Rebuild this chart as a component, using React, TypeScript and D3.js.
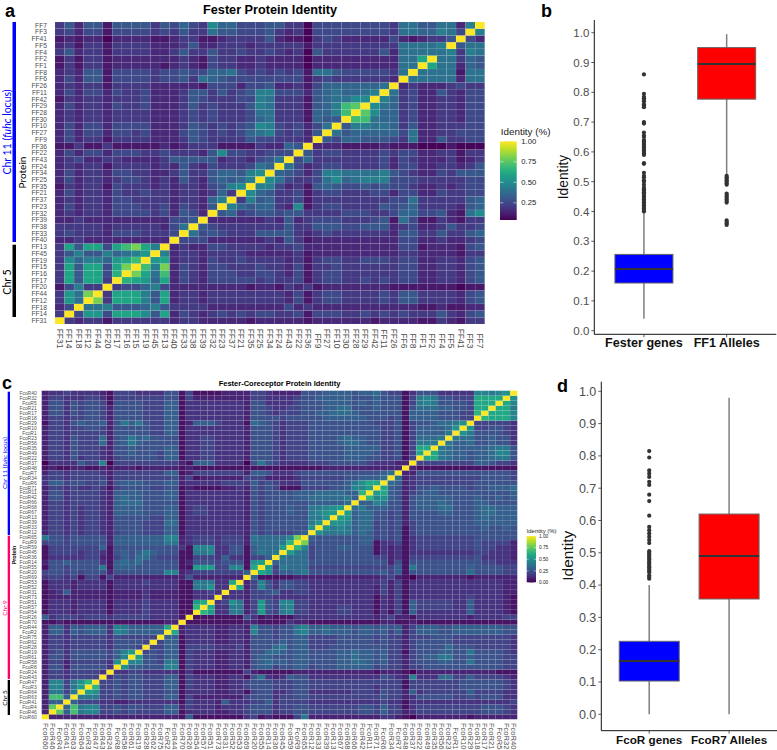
import * as d3 from "d3";

// labels run left to right along the x axis, the y axis is the same list upwards
const ffLabels = ["FF31","FF14","FF18","FF12","FF44","FF20","FF17","FF16","FF15","FF19","FF45","FF13","FF40","FF33","FF38","FF39","FF32","FF23","FF37","FF21","FF35","FF25","FF34","FF24","FF43","FF22","FF36","FF9","FF27","FF10","FF30","FF28","FF29","FF42","FF11","FF26","FF6","FF8","FF1","FF2","FF4","FF5","FF41","FF3","FF7"];

const fcoLabels = ["FcoR60","FcoR46","FcoR4","FcoR41","FcoR63","FcoR64","FcoR3","FcoR47","FcoR43","FcoR24","FcoR8","FcoR58","FcoR61","FcoR19","FcoR28","FcoR62","FcoR75","FcoR2","FcoR44","FcoR70","FcoR26","FcoR54","FcoR57","FcoR51","FcoR73","FcoR31","FcoR52","FcoR53","FcoR69","FcoR20","FcoR55","FcoR14","FcoR36","FcoR45","FcoR59","FcoR9","FcoR65","FcoR12","FcoR33","FcoR39","FcoR13","FcoR67","FcoR68","FcoR66","FcoR42","FcoR11","FcoR71","FcoR6","FcoR34","FcoR7","FcoR48","FcoR37","FcoR22","FcoR49","FcoR35","FcoR56","FcoR23","FcoR1","FcoR10","FcoR29","FcoR18","FcoR17","FcoR21","FcoR5","FcoR32","FcoR40"];

// identity, lower triangle only, one base-36 digit per cell
// (digit * 0.05 = identity, k = 1.0), grouped by five to keep count
const ffRows = [
  "k",
  "4k",
  "35k",
  "4b8k",
  "4b8gk",
  "25944 k",
  "4c6cc 4k",
  "4c6cc 5dk",
  "4c6cc 5cgk",
  "4a799 7bcek",
  "46966 9789b k",
  "4c6cc 5cegc 9k",
  "33433 33333 33k",
  "45444 35554 445k",
  "44444 34444 4358k",
  "33433 33333 33556 k",
  "34344 35555 45365 3k",
  "35344 35554 45354 36k",
  "34344 35544 44344 379k",
  "35344 35445 44344 3474k",
  "24344 25444 34344 3569a k",
  "35344 34554 34364 36767 9k",
  "35344 35544 33464 46776 9ak",
  "34344 24444 34364 35444 587k",
  "34533 44333 34666 66344 3568k",
  "35355 35554 45444 36a55 44555 k",
  "22422 42222 23234 44222 24337 6k",
  "35344 24444 33346 54444 65544 43k",
  "35355 35545 33356 54545 78954 536k",
  "35355 35555 33346 54545 6a954 5358k",
  "34344 34444 33345 45444 57844 42766 k",
  "34344 34444 33345 45444 58844 42779 ek",
  "35344 35445 33346 45444 69844 42679 efk",
  "24344 34445 33346 54445 59844 42678 8aak",
  "35355 35445 33346 64645 69955 53678 7789k",
  "34344 24444 33333 25553 55633 42577 77778 k",
  "35366 25555 45564 87655 55555 52454 44444 3k",
  "34366 25555 45565 57785 45454 52886 55555 48k",
  "24244 23333 32343 25443 34333 31333 33333 388k",
  "24244 23333 33343 25443 34333 31333 33333 388ck",
  "46344 24444 33464 46445 44543 41644 44446 38888 8k",
  "34244 24444 33346 33444 34444 42444 44444 48888 9k",
  "23233 13333 22344 22344 44632 21454 33333 53234 46k",
  "45355 25555 45464 48665 55643 41555 55555 48877 985k",
  "46366 26666 46575 4a775 55664 41555 55555 48866 8839k",
];

const fcoRows = [
  "k",
  "2k",
  "2fk",
  "266k",
  "2ee6k",
  "28848 k",
  "29948 bk",
  "29948 adk",
  "24434 444k",
  "24434 4443k",
  "25525 55553 k",
  "24424 44443 ak",
  "25535 55554 69k",
  "24535 55554 69bk",
  "24434 44443 5554k",
  "24434 44443 55554 k",
  "24434 44443 54444 4k",
  "26636 56663 98666 66k",
  "26636 56663 98666 66ck",
  "11211 11111 11111 1122k",
  "63444 34443 44444 33331 k",
  "13332 33331 33334 33331 1k",
  "13332 33331 33334 33331 1dk",
  "13332 33331 33334 33331 1bck",
  "12222 22221 22223 22221 1333k",
  "12362 22221 22223 22221 13343 k",
  "13332 33331 33333 33331 188a3 3k",
  "13332 33331 33334 33331 18883 3ck",
  "34434 14414 22222 22222 52222 222k",
  "45545 45552 55555 55992 34444 4446k",
  "15545 55581 66655 55551 1bbb4 4991c k",
  "25565 55531 67675 55551 25554 5551a bk",
  "13333 34421 46577 54441 14443 63314 46k",
  "14444 34431 56568 65551 18893 35516 878k",
  "14444 44461 55555 55553 19993 35516 777bk",
  "45545 55552 66666 66882 34443 44427 7778d k",
  "85545 55552 66666 66992 34443 44428 77779 gk",
  "24434 34432 45554 44661 33333 33325 45444 56k",
  "24434 34432 55554 44661 33333 33325 45555 55ak",
  "24434 34432 55554 44771 33333 33325 45555 558ak",
  "24434 34432 55555 44661 33333 33325 45555 5588a k",
  "24434 34432 66665 55661 34433 33325 45556 5589a bk",
  "24434 34432 66665 55661 34433 33325 45556 55889 abk",
  "24434 44432 67775 55551 33333 33325 45555 55666 667k",
  "25534 44432 67665 55661 33333 33325 45555 66777 7786k",
  "25534 44432 66665 55661 33333 33325 45555 66677 7766d k",
  "24434 33431 45555 44551 21111 22325 45411 14444 55699 bk",
  "36645 54452 56665 55662 33333 44436 45433 35555 5568a cck",
  "34434 44442 44444 44452 41222 22244 42222 34444 44556 667k",
  "24434 44432 44444 44661 24444 44426 65333 45555 55555 5567k",
  "12112 21121 22212 22221 21111 11111 11111 11112 22222 22222 k",
  "03333 64490 44444 44442 16663 33305 85433 33444 55555 43332 2k",
  "24435 34432 45555 54661 33443 33325 55434 44555 55666 55445 14k",
  "24435 44432 55655 54661 33443 33325 55434 44555 55666 65445 14ck",
  "24435 44432 55655 55661 33443 33325 55434 44555 55666 66445 14cck",
  "24435 44472 56865 55551 33443 33325 55434 44555 56776 55445 14888 k",
  "24435 44472 56867 55551 33443 33325 55434 44555 56766 55445 14777 8k",
  "24434 44442 55555 44661 33333 33325 55434 44555 55555 55445 14666 68k",
  "24434 45542 55555 44661 33333 33325 55434 44555 55555 55445 14666 67ak",
  "14435 65562 58685 44661 26664 33317 65434 44555 55555 54445 14556 778ak",
  "24434 45542 55554 44661 33333 33325 55545 55556 66666 55545 16666 55544 k",
  "25535 45542 55554 44661 33333 33325 54344 45566 77765 55555 16666 55544 dk",
  "25535 45542 55554 44661 33333 33325 54334 45556 67755 56555 15777 66554 cck",
  "25535 45541 55554 44661 33333 33325 53333 45556 66656 56555 14898 55554 ccck",
  "24433 34431 44444 44551 42222 22224 43333 45566 66655 56555 14898 55444 cccck",
  "23343 33321 44433 33551 41111 22224 43222 25556 66656 67544 13555 33333 9989a k",
];

const ffBoxes = [
  { name: "Fester genes", fill: "#0000ff", low: 0.04, q1: 0.16, med: 0.207, q3: 0.256, high: 0.4 },
  { name: "FF1 Alleles", fill: "#ff0000", low: 0.52, q1: 0.777, med: 0.895, q3: 0.95, high: 0.995 },
];
const ffOutliers = [
  [0.4,0.405,0.41,0.415,0.42,0.425,0.43,0.435,0.44,0.445,0.45,0.455,0.46,0.465,0.47,0.475,0.48,0.49,0.5,0.505,0.515,0.52,0.53,0.56,0.562,0.59,0.595,0.6,0.605,0.61,0.615,0.62,0.625,0.63,0.635,0.64,0.65,0.655,0.665,0.695,0.7,0.75,0.755,0.76,0.77,0.775,0.78,0.785,0.795,0.86],
  [0.355,0.36,0.365,0.37,0.43,0.435,0.44,0.445,0.45,0.455,0.46,0.49,0.495,0.5,0.505,0.51,0.515,0.52],
];
const fcoBoxes = [
  { name: "FcoR genes", fill: "#0000ff", low: 0, q1: 0.103, med: 0.165, q3: 0.226, high: 0.4 },
  { name: "FcoR7 Alleles", fill: "#ff0000", low: 0, q1: 0.357, med: 0.49, q3: 0.62, high: 0.98 },
];
const fcoOutliers = [
  [0.42,0.425,0.43,0.44,0.445,0.45,0.455,0.46,0.465,0.47,0.475,0.48,0.485,0.49,0.495,0.5,0.505,0.53,0.54,0.55,0.56,0.57,0.58,0.615,0.66,0.68,0.71,0.72,0.735,0.745,0.755,0.795,0.815],
  [],
];

const legendTicksA = [0.25, 0.5, 0.75, 1];
const legendTicksC = [0, 0.25, 0.5, 0.75, 1];
const yTicks = d3.range(0, 11).map((d) => d / 10);

const SANS = "'Liberation Sans', Arial, sans-serif";
const SIDE = "Lato, 'Open Sans', sans-serif";

const readRows = (rows: string[]) => {
  const cleaned = rows.map((r) => r.replace(/ /g, ""));
  return (i: number, j: number) => {
    const hi = Math.max(i, j);
    const lo = Math.min(i, j);
    return parseInt(cleaned[hi][lo], 36) * 0.05;
  };
};

type HeatProps = {
  labels: string[];
  rows: string[];
  left: number;
  right: number;
  top: number;
  bottom: number;
  minValue: number;
  yFont: number;
  yEnd: number;
  xFont: number;
  xEnd: number;
  gridOpacity: number;
};

const Heatmap = ({ labels, rows, left, right, top, bottom, minValue, yFont, yEnd, xFont, xEnd, gridOpacity }: HeatProps) => {
  const x = d3.scaleBand<string>().domain(labels).range([left, right]);
  const y = d3.scaleBand<string>().domain(labels).range([bottom, top]);
  const color = d3.scaleSequential(d3.interpolateViridis).domain([minValue, 1]);
  const value = readRows(rows);
  return (
    <g>
      {labels.map((a, i) =>
        labels.map((b, j) => (
          <rect
            key={a + b}
            x={x(a)}
            y={y(b)}
            width={x.bandwidth()}
            height={y.bandwidth()}
            fill={color(value(i, j))}
            stroke="#fff"
            strokeOpacity={gridOpacity}
            strokeWidth={0.5}
          />
        ))
      )}
      {labels.map((a) => (
        <text key={a} x={yEnd} y={y(a)! + y.bandwidth() / 2} dy="0.35em" textAnchor="end" fontSize={yFont} fill="#4d4d4d" fontFamily={SANS}>
          {a}
        </text>
      ))}
      {labels.map((a) => {
        const cx = x(a)! + x.bandwidth() / 2;
        return (
          <text key={a} transform={`translate(${cx},${xEnd}) rotate(90)`} dy="0.35em" textAnchor="end" fontSize={xFont} fill="#4d4d4d" fontFamily={SANS}>
            {a}
          </text>
        );
      })}
    </g>
  );
};

type LegendProps = {
  id: string;
  ticks: number[];
  domain: [number, number];
  x0: number;
  width: number;
  top: number;
  bottom: number;
  font: number;
  titleFont: number;
  titleX: number;
  titleY: number;
};

const Legend = ({ id, ticks, domain, x0, width, top, bottom, font, titleFont, titleX, titleY }: LegendProps) => {
  const y = d3.scaleLinear().domain(domain).range([bottom, top]);
  const color = d3.scaleSequential(d3.interpolateViridis).domain(domain);
  const stops = d3.range(0, 1.001, 0.1);
  return (
    <g fontFamily={SANS}>
      <defs>
        <linearGradient id={id} x1="0" x2="0" y1="1" y2="0">
          {stops.map((s) => (
            <stop key={s} offset={s} stopColor={color(domain[0] + s * (domain[1] - domain[0]))} />
          ))}
        </linearGradient>
      </defs>
      <text x={titleX} y={titleY} fontSize={titleFont} fill="#222">Identity (%)</text>
      <rect x={x0} y={top} width={width} height={bottom - top} fill={`url(#${id})`} />
      {ticks.map((t) => (
        <g key={t}>
          <line x1={x0} x2={x0 + width * 0.2} y1={y(t)} y2={y(t)} stroke="#fff" strokeWidth={0.5} />
          <line x1={x0 + width * 0.8} x2={x0 + width} y1={y(t)} y2={y(t)} stroke="#fff" strokeWidth={0.5} />
          <text x={x0 + width + font * 0.6} y={y(t)} dy="0.35em" fontSize={font} fill="#222">{t.toFixed(2)}</text>
        </g>
      ))}
    </g>
  );
};

type BoxProps = {
  boxes: typeof ffBoxes;
  outliers: number[][];
  axisX: number;
  right: number;
  axisTop: number;
  axisY: number;
  y1: number;
  y0: number;
  boxWidth: number;
  tickFont: number;
  titleFont: number;
  titleX: number;
  titleY: number;
  labelFont: number;
  labelY: number;
};

const BoxPanel = ({ boxes, outliers, axisX, right, axisTop, axisY, y1, y0, boxWidth, tickFont, titleFont, titleX, titleY, labelFont, labelY }: BoxProps) => {
  const y = d3.scaleLinear().domain([0, 1]).range([y0, y1]);
  const x = d3.scalePoint<string>().domain(boxes.map((b) => b.name)).range([axisX, right]).padding(0.6);
  return (
    <g fontFamily={SANS}>
      {boxes.map((b, i) => {
        const cx = x(b.name)!;
        return (
          <g key={b.name}>
            <line x1={cx} x2={cx} y1={y(b.low)} y2={y(b.high)} stroke="#7f7f7f" strokeWidth={1.5} />
            <rect x={cx - boxWidth / 2} y={y(b.q3)} width={boxWidth} height={y(b.q1) - y(b.q3)} fill={b.fill} stroke="#666" strokeWidth={1} />
            <line x1={cx - boxWidth / 2} x2={cx + boxWidth / 2} y1={y(b.med)} y2={y(b.med)} stroke="#333" strokeWidth={2} />
            {outliers[i].map((v) => (
              <circle key={v} cx={cx} cy={y(v)} r={2.1} fill="#333" />
            ))}
            <line x1={cx} x2={cx} y1={axisY} y2={axisY + 3} stroke="#333" strokeWidth={0.8} />
            <text x={cx} y={labelY} textAnchor="middle" fontSize={labelFont} fontWeight="bold" fill="#111">{b.name}</text>
          </g>
        );
      })}
      <line x1={axisX} x2={axisX} y1={axisTop} y2={axisY} stroke="#111" strokeWidth={1} />
      <line x1={axisX} x2={right} y1={axisY} y2={axisY} stroke="#111" strokeWidth={1} />
      {yTicks.map((t) => (
        <g key={t}>
          <line x1={axisX - 3} x2={axisX} y1={y(t)} y2={y(t)} stroke="#333" strokeWidth={0.8} />
          <text x={axisX - 5} y={y(t)} dy="0.35em" textAnchor="end" fontSize={tickFont} fill="#4d4d4d">{t.toFixed(1)}</text>
        </g>
      ))}
      <text transform={`translate(${titleX},${titleY}) rotate(-90)`} textAnchor="middle" fontSize={titleFont} fill="#111">Identity</text>
    </g>
  );
};

const SideText = ({ x, y, size, fill, weight, children }: any) => (
  <text transform={`translate(${x},${y}) rotate(-90)`} textAnchor="middle" fontSize={size} fill={fill} fontWeight={weight} fontFamily={SIDE}>
    {children}
  </text>
);

const PanelLetter = ({ x, y, children }: any) => (
  <text x={x} y={y} fontSize={18} fontWeight="bold" fill="#000" fontFamily={SANS}>{children}</text>
);

export default function App() {
  return (
    <svg width={777} height={750} style={{ position: "absolute", left: 0, top: 0, background: "#fff" }}>
      <PanelLetter x={5} y={16.5}>a</PanelLetter>
      <PanelLetter x={541} y={16.5}>b</PanelLetter>
      <PanelLetter x={2} y={389}>c</PanelLetter>
      <PanelLetter x={557} y={392}>d</PanelLetter>

      <text x={270} y={14} textAnchor="middle" fontSize={12.7} fontWeight="bold" fontFamily={SANS}>Fester Protein Identity</text>
      <text x={279.5} y={385.5} textAnchor="middle" fontSize={7.5} fontWeight="bold" fontFamily={SANS}>Fester-Coreceptor Protein Identity</text>

      <Heatmap labels={ffLabels} rows={ffRows} left={55} right={484.7} top={22} bottom={324} minValue={0.04} yFont={6.7} yEnd={47} xFont={8.5} xEnd={348.5} gridOpacity={0.12} />
      <Heatmap labels={fcoLabels} rows={fcoRows} left={41.7} right={517.3} top={390.7} bottom={719.3} minValue={0} yFont={4.95} yEnd={36.7} xFont={7.6} xEnd={749.5} gridOpacity={0.08} />

      <Legend id="legendA" ticks={legendTicksA} domain={[0.04, 1]} x0={500} width={16.7} top={141.3} bottom={220} font={7.7} titleFont={9.9} titleX={500.7} titleY={135} />
      <Legend id="legendC" ticks={legendTicksC} domain={[0, 1]} x0={526.7} width={9.3} top={536} bottom={582.5} font={4.8} titleFont={5.9} titleX={526.7} titleY={532.7} />

      {/* chromosome bars */}
      <rect x={12.5} y={22} width={3.5} height={220} fill="#0000ff" />
      <rect x={12.5} y={244.7} width={3.5} height={72.3} fill="#000" />
      <SideText x={10.5} y={132} size={10.5} fill="#0000ff">Chr 11 (<tspan fontStyle="italic">fuhc</tspan> locus)</SideText>
      <SideText x={10.5} y={282} size={10.5} fill="#000">Chr 5</SideText>
      <SideText x={26} y={172.5} size={10} fill="#000">Protein</SideText>

      <rect x={7.7} y={391.7} width={2.3} height={143.3} fill="#0000ff" />
      <rect x={7.7} y={535.7} width={2.3} height={143.3} fill="#ff0066" />
      <rect x={7.7} y={680} width={2.3} height={35} fill="#000" />
      <SideText x={6.5} y={463} size={6.4} fill="#0000ff">Chr 11 (<tspan fontStyle="italic">fuhc</tspan> locus)</SideText>
      <SideText x={6.5} y={608} size={6.4} fill="#ff0066">Chr 9</SideText>
      <SideText x={6.5} y={698} size={6.4} fill="#000">Chr 5</SideText>
      <SideText x={16} y={555} size={5.7} fill="#000" weight="bold">Protein</SideText>

      <BoxPanel boxes={ffBoxes} outliers={ffOutliers} axisX={594.3} right={776.3} axisTop={20} axisY={334.3} y1={32.7} y0={330.7} boxWidth={58} tickFont={11.5} titleFont={13.8} titleX={568} titleY={177} labelFont={12.6} labelY={347} />
      <BoxPanel boxes={fcoBoxes} outliers={fcoOutliers} axisX={601.3} right={777} axisTop={381.7} axisY={730.7} y1={391.3} y0={714.3} boxWidth={60} tickFont={12.5} titleFont={15.5} titleX={573} titleY={555.7} labelFont={11.7} labelY={744} />
    </svg>
  );
}
